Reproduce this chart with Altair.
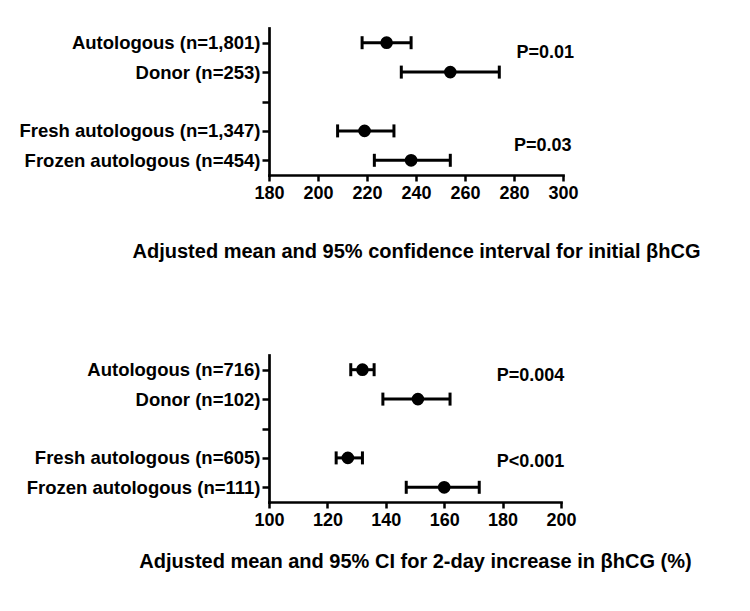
import altair as alt
import pandas as pd

FONT = "Liberation Sans"

# ---- data: initial bhCG ----
top_labels = ["Autologous (n=1,801)", "Donor (n=253)",
              "Fresh autologous (n=1,347)", "Frozen autologous (n=454)"]
top_mean = [228, 254, 219, 238]
top_low = [218, 234, 208, 223]
top_high = [238, 274, 231, 254]
top_ticks = [180, 200, 220, 240, 260, 280, 300]
top_p = ["P=0.01", "P=0.03"]
top_p_x = [281, 280]

# ---- data: 2-day increase ----
bot_labels = ["Autologous (n=716)", "Donor (n=102)",
              "Fresh autologous (n=605)", "Frozen autologous (n=111)"]
bot_mean = [132, 151, 127, 160]
bot_low = [128, 139, 123, 147]
bot_high = [136, 162, 132, 172]
bot_ticks = [100, 120, 140, 160, 180, 200]
bot_p = ["P=0.004", "P<0.001"]
bot_p_x = [178, 178]

top_title = "Adjusted mean and 95% confidence interval for initial βhCG"
bot_title = "Adjusted mean and 95% CI for 2-day increase in βhCG (%)"


def panel(labels, mean, low, high, ticks, title, pvals, px, p_dy,
          width, title_pad):
    order = labels[:2] + [" "] + labels[2:]
    df = pd.DataFrame({"label": labels, "mean": mean, "low": low, "high": high})
    yscale = alt.Scale(domain=order, type="point", padding=0.5)
    yenc = alt.Y("label:N", scale=yscale,
                 axis=alt.Axis(title=None, tickSize=7, labelPadding=2,
                               labelFontSize=18.5, labelLimit=600,
                               domainCap="square"))
    xscale = alt.Scale(domain=[ticks[0], ticks[-1]], nice=False, zero=False)
    xaxis = alt.Axis(values=ticks, title=title, labelFontSize=18,
                     labelPadding=3, tickSize=6, labelFlush=False,
                     titleFontSize=20, titleFontWeight="bold",
                     titleFont=FONT, titleColor="black", titleLimit=1000,
                     titlePadding=title_pad, domainCap="square")
    base = alt.Chart(df)
    rule = base.mark_rule(strokeWidth=3, color="black").encode(
        x=alt.X("low:Q", scale=xscale, axis=xaxis), x2="high:Q", y=yenc)
    cap_l = base.mark_tick(thickness=3, size=13, color="black",
                           opacity=1).encode(x="low:Q", y=yenc)
    cap_h = base.mark_tick(thickness=3, size=13, color="black",
                           opacity=1).encode(x="high:Q", y=yenc)
    dots = base.mark_circle(size=160, color="black", opacity=1).encode(
        x="mean:Q", y=yenc)
    layers = [rule, cap_l, cap_h, dots]
    anchors = [labels[0], labels[2]]
    for i in range(2):
        pdf = pd.DataFrame({"label": [anchors[i]], "x": [px[i]],
                            "t": [pvals[i]]})
        layers.append(
            alt.Chart(pdf).mark_text(align="left", baseline="middle",
                                     fontSize=18, fontWeight="bold",
                                     font=FONT, color="black",
                                     dy=p_dy[i]).encode(
                x="x:Q", y=alt.Y("label:N"), text="t:N"))
    return alt.layer(*layers).properties(width=width, height=147)


top = panel(top_labels, top_mean, top_low, top_high, top_ticks, top_title,
            top_p, top_p_x, [10, 15], 294, 39)
bot = panel(bot_labels, bot_mean, bot_low, bot_high, bot_ticks, bot_title,
            bot_p, bot_p_x, [6, 4], 292, 22)

chart = alt.vconcat(top, bot, spacing=94).properties(
    padding={"top": 20, "left": 10, "right": 5, "bottom": 5}
).configure_view(stroke=None).configure_axis(
    grid=False, domainColor="black", domainWidth=2.7, tickColor="black",
    tickWidth=2.5, labelFont=FONT, labelFontWeight="bold",
    labelColor="black"
)

chart.save("out.html", embed_options={"renderer": "svg", "actions": False})
